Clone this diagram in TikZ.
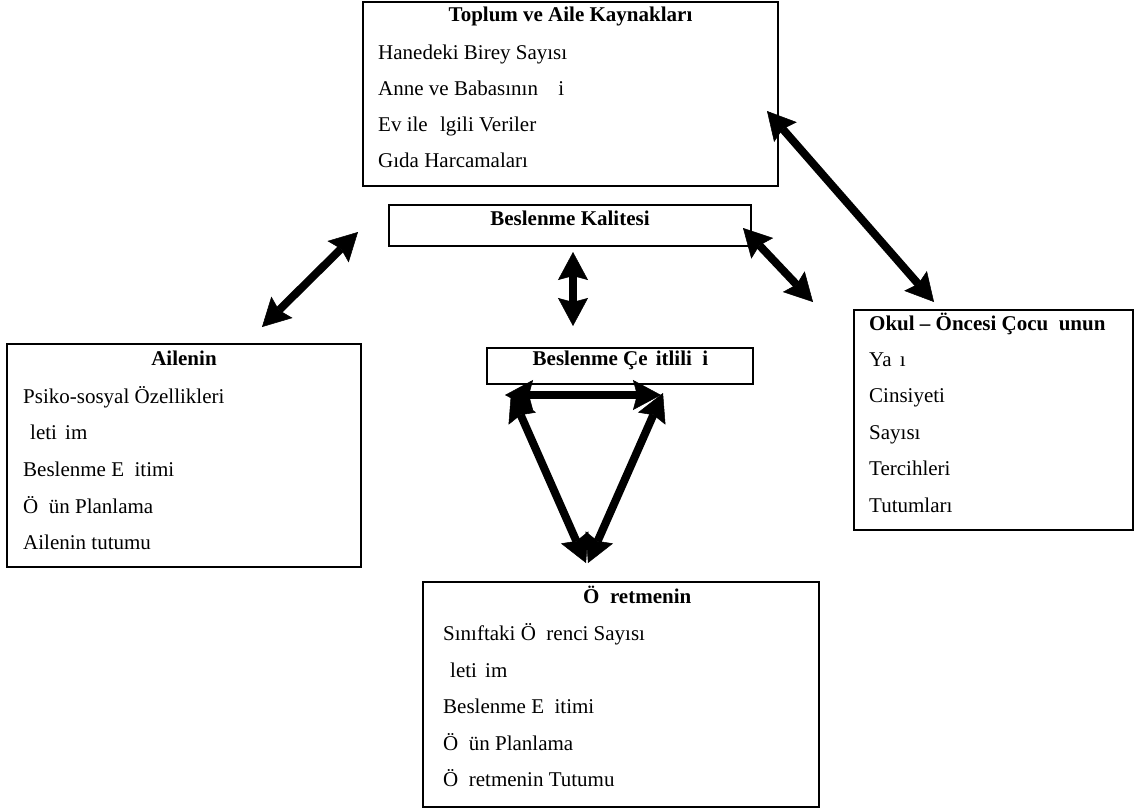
\documentclass[tikz,border=0pt]{standalone}
\usepackage{fontspec}
\setmainfont{Liberation Serif}
\usetikzlibrary{arrows.meta,fit}
\begin{document}
\begin{tikzpicture}[x=1pt,y=-1pt,
  box/.style={draw, line width=1.8pt, inner sep=0pt},
  txt/.style={inner sep=0pt, anchor=base west, font=\fontsize{21}{25}\selectfont},
  ttl/.style={txt, font=\fontsize{21}{25}\selectfont\bfseries},
  ttlc/.style={ttl, anchor=base},
  bigarrow/.style={line width=8pt,
    {Stealth[length=28pt,width=30pt,inset=4pt,line width=0.5pt]}-{Stealth[length=28pt,width=30pt,inset=4pt,line width=0.5pt]}}]
\useasboundingbox (0,0) rectangle (1136,811);

% boxes
\node[box, fit={(363,2) (778,186)}] (topbox) {};
\node[box, fit={(389,205) (751,246)}] (kalite) {};
\node[box, fit={(7,344) (361,567)}] (ailebox) {};
\node[box, fit={(854,310) (1133,530)}] (okulbox) {};
\node[box, fit={(487,348) (753,384)}] (cesit) {};
\node[box, fit={(423,582) (819,807)}] (ogretbox) {};

% top box text
\node[ttlc] (t0) at (570.5,21) {Toplum ve Aile Kaynakları};
\node[txt] (t1) at (378,59) {Hanedeki Birey Sayısı};
\node[txt] (t2) at (378,95) {Anne ve Babasının \phantom{İş}i};
\node[txt] (t3) at (378,131) {Ev ile \phantom{İ}lgili Veriler};
\node[txt] (t4) at (378,167) {Gıda Harcamaları};

% kalite
\node[ttlc] (k0) at (570,225) {Beslenme Kalitesi};

% ailenin
\node[ttlc] (a0) at (184,365) {Ailenin};
\node[txt] (a1) at (23,403) {Psiko-sosyal Özellikleri};
\node[txt] (a2) at (23,439) {\phantom{İ}leti\phantom{ş}im};
\node[txt] (a3) at (23,476) {Beslenme E\phantom{ğ}itimi};
\node[txt] (a4) at (23,513) {Ö\phantom{ğ}ün Planlama};
\node[txt] (a5) at (23,549) {Ailenin tutumu};

% okul
\node[ttl] (o0) at (869,330) {Okul – Öncesi Çocu\phantom{ğ}unun};
\node[txt] (o1) at (869,366) {Ya\phantom{ş}ı};
\node[txt] (o2) at (869,402.5) {Cinsiyeti};
\node[txt] (o3) at (869,439) {Sayısı};
\node[txt] (o4) at (869,475.5) {Tercihleri};
\node[txt] (o5) at (869,512) {Tutumları};

% cesitlilik
\node[ttlc] (c0) at (620.5,365) {Beslenme Çe\phantom{ş}itlili\phantom{ğ}i};

% ogretmen
\node[ttl] (g0) at (583,603) {Ö\phantom{ğ}retmenin};
\node[txt] (g1) at (443,640.5) {Sınıftaki Ö\phantom{ğ}renci Sayısı};
\node[txt] (g2) at (443,677) {\phantom{İ}leti\phantom{ş}im};
\node[txt] (g3) at (443,713) {Beslenme E\phantom{ğ}itimi};
\node[txt] (g4) at (443,750) {Ö\phantom{ğ}ün Planlama};
\node[txt] (g5) at (443,786) {Ö\phantom{ğ}retmenin Tutumu};

% arrow end points
\coordinate (p1a) at (358,232);
\coordinate (p1b) at (262,327);
\coordinate (p2a) at (573,252);
\coordinate (p2b) at (573,326);
\coordinate (p3a) at (743,228);
\coordinate (p3b) at (813,302);
\coordinate (p4a) at (767,111);
\coordinate (p4b) at (934,302);
\coordinate (p5a) at (505,395);
\coordinate (p5b) at (661,395);
\coordinate (p6a) at (511,393);
\coordinate (p6b) at (586,563);
\coordinate (p7a) at (663,393);
\coordinate (p7b) at (588,563);

\draw[bigarrow] (p1a) -- (p1b);
\draw[bigarrow] (p2a) -- (p2b);
\draw[bigarrow] (p3a) -- (p3b);
\draw[bigarrow] (p4a) -- (p4b);
\draw[bigarrow] (p5a) -- (p5b);
\draw[bigarrow] (p6a) -- (p6b);
\draw[bigarrow] (p7a) -- (p7b);
\end{tikzpicture}
\end{document}
